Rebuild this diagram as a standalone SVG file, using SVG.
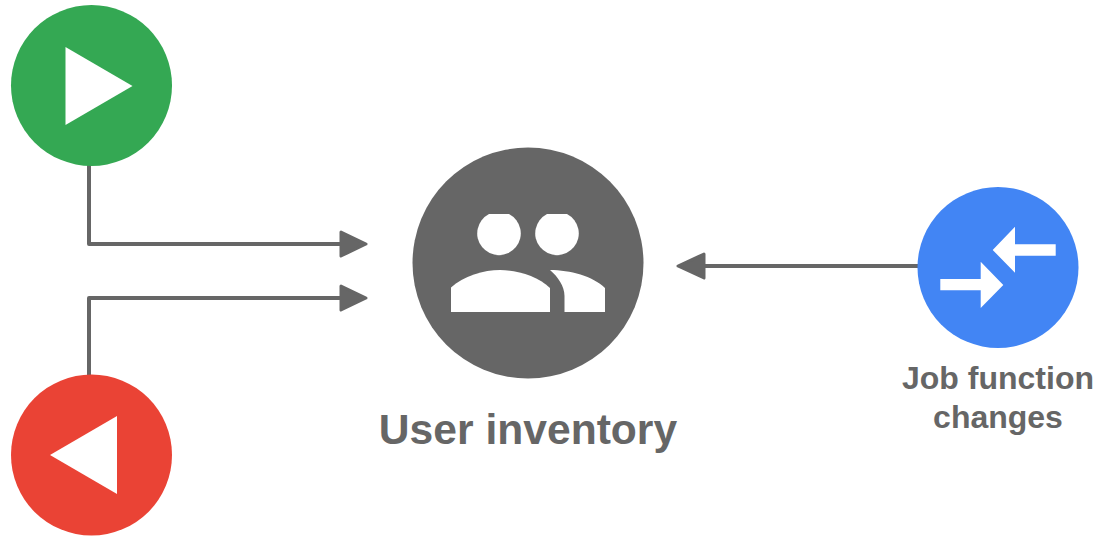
<svg xmlns="http://www.w3.org/2000/svg" width="1097" height="536" viewBox="0 0 1097 536">
<style>
.c{fill:none;stroke:#666;stroke-width:4;stroke-linejoin:round}
.h{fill:#666;stroke:#666;stroke-width:3;stroke-linejoin:round}
.w{fill:#fff}
.t{font-family:"Liberation Sans",Arial,sans-serif;font-weight:bold;fill:#666;text-anchor:middle}
</style>
<rect width="1097" height="536" fill="#fff"/>
<g id="connectors">
<path class="c" d="M89 165V244H342"/>
<path class="h" d="M341 232L366 244L341 256Z"/>
<path class="c" d="M89 375V298H342"/>
<path class="h" d="M341 286L366 298L341 310Z"/>
<path class="c" d="M918 266H704"/>
<path class="h" d="M704 254L678 266L704 278Z"/>
</g>
<g id="node-start">
<circle cx="91.500" cy="85.500" r="80.500" fill="#34a853"/>
<path class="w" d="M65.500 47L132.500 86L65.500 125Z"/>
</g>
<g id="node-stop">
<circle cx="91.500" cy="455" r="80.500" fill="#ea4335"/>
<path class="w" d="M117 416L50 455L117 494Z"/>
</g>
<g id="node-user-inventory">
<circle cx="528" cy="263" r="115.500" fill="#666"/>
<path class="w" d="M489 214H509A21.800 21.800 0 1 1 489 214Z"/>
<path class="w" d="M547 214H567A21.800 21.800 0 1 1 547 214Z"/>
<path class="w" d="M451 312V287.500C463 276 484 270 500 270C517 270 538 276 550 288V312Z"/>
<path class="w" d="M550 270C570 270 593 276 605 288V312H564.500V296C564.500 286 558 277 550 270Z"/>
<text class="t" x="528" y="444" font-size="42.600">User inventory</text>
</g>
<g id="node-job-function-changes">
<circle cx="998" cy="267.500" r="80.500" fill="#4285f4"/>
<path class="w" d="M1015 226.700V244.300H1055.700V255.700H1015V272.700L992.700 250Z"/>
<path class="w" d="M980.700 261.700V279H940.300V290.300H980.700V308L1003.300 285Z"/>
<text class="t" x="998" y="389" font-size="32">Job function</text>
<text class="t" x="998" y="428" font-size="32">changes</text>
</g>
</svg>
